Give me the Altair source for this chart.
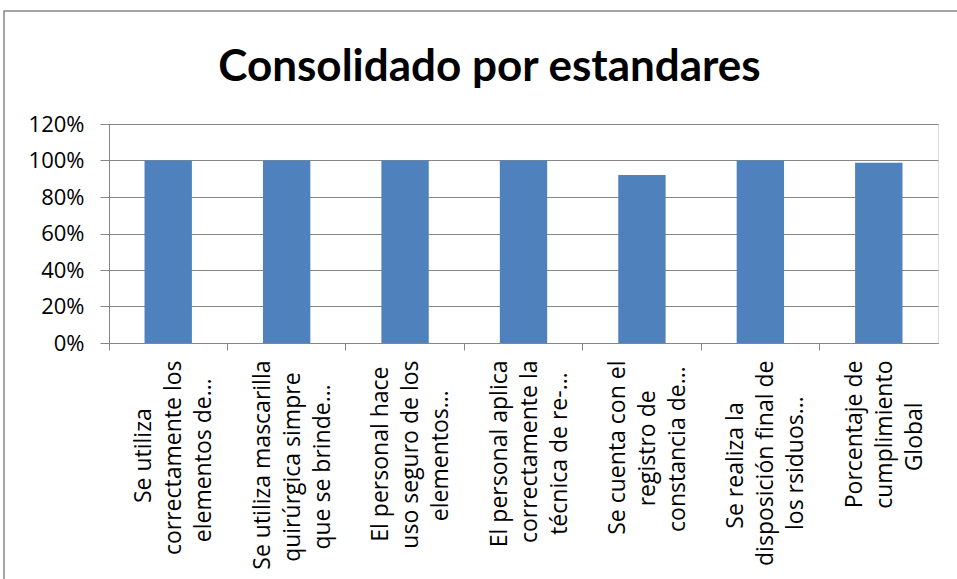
import altair as alt
import pandas as pd

categories = [
    "Se utiliza|correctamente los|elementos de…",
    "Se utiliza mascarilla|quirúrgica simpre|que se brinde…",
    "El personal hace|uso seguro de los|elementos…",
    "El personal aplica|correctamente la|técnica de re-…",
    "Se cuenta con el|registro de|constancia de…",
    "Se realiza la|disposición final de|los rsiduos…",
    "Porcentaje de|cumplimiento|Global",
]
values = [1.0, 1.0, 1.0, 1.0, 0.92, 1.0, 0.988]
y_ticks = [0, 0.2, 0.4, 0.6, 0.8, 1.0, 1.2]

# approximate Open Sans advance widths (em), used only to centre the lines
_W = {
    "a": .556, "b": .613, "c": .49, "d": .613, "e": .561, "f": .339, "g": .548,
    "h": .614, "i": .253, "j": .253, "k": .525, "l": .253, "m": .93, "n": .614,
    "o": .604, "p": .613, "q": .613, "r": .408, "s": .477, "t": .353, "u": .614,
    "v": .501, "w": .778, "x": .524, "y": .502, "z": .477, " ": .26,
    "S": .536, "E": .56, "P": .604, "G": .706, "-": .322, "…": .77,
    "á": .556, "é": .561, "í": .253, "ó": .604, "ú": .614,
}


def _width(s):
    return sum(_W.get(ch, .55) for ch in s)


def centred(label):
    lines = label.split("|")
    mx = max(_width(l) for l in lines)
    out = []
    for l in lines:
        pad = round((mx - _width(l)) / 2 / 0.26)
        out.append(l + "\u00a0" * pad + "\u200b" if pad else l)
    return "|".join(out)


df = pd.DataFrame({"cat": categories, "val": values})
df["shown"] = [centred(c) for c in categories]

W = 829
H = 219
LEFT = 109
TOP = 124
FONT = "Open Sans"
TITLE_FONT = "Lato"
GRAY = "#868686"

bars = (
    alt.Chart(df)
    .mark_bar(color="#4F81BD", width=alt.RelativeBandSize(0.4))
    .encode(
        x=alt.X(
            "shown:N",
            sort=list(df["shown"]),
            title=None,
            scale=alt.Scale(paddingInner=0, paddingOuter=0),
            axis=alt.Axis(
                labelExpr="split(datum.label, '|')",
                labelAngle=270,
                labelAlign="right",
                labelBaseline="middle",
                bandPosition=0,
                labelOffset=-24,
                labelFont=FONT,
                labelFontSize=23,
                labelLineHeight=30,
                labelColor="black",
                labelLimit=400,
                labelPadding=10,
                tickSize=7,
                tickColor=GRAY,
                domainColor=GRAY,
                grid=False,
            ),
        ),
        y=alt.Y(
            "val:Q",
            title=None,
            scale=alt.Scale(domain=[0, 1.2], nice=False),
            axis=alt.Axis(
                values=y_ticks,
                format=".0%",
                labelFont=FONT,
                labelFontSize=22,
                labelColor="black",
                labelPadding=16,
                tickSize=9,
                tickColor=GRAY,
                domainColor=GRAY,
                gridColor=GRAY,
                gridWidth=1,
            ),
        ),
    )
)

frame = (
    alt.Chart(pd.DataFrame({"k": [0]}))
    .mark_rect(fillOpacity=0, stroke=GRAY, strokeWidth=1.5)
    .encode(
        x=alt.value(4 - LEFT),
        x2=alt.value(1100),
        y=alt.value(11 - TOP),
        y2=alt.value(800),
    )
)

chart = (
    alt.layer(frame, bars)
    .properties(
        width=W,
        height=H,
        title=alt.TitleParams(
            "Consolidado por estandares",
            font=TITLE_FONT,
            fontSize=44,
            fontWeight="bold",
            color="black",
            anchor="middle",
            dx=-34,
            dy=80,
            offset=0,
        ),
        autosize=alt.AutoSizeParams(type="none"),
        padding={"left": LEFT, "top": TOP, "right": 957 - LEFT - W, "bottom": 579 - TOP - H},
    )
    .configure_view(stroke=None)
    .configure(background="white")
)

chart.save("out.html", embed_options={"renderer": "svg", "actions": False})
